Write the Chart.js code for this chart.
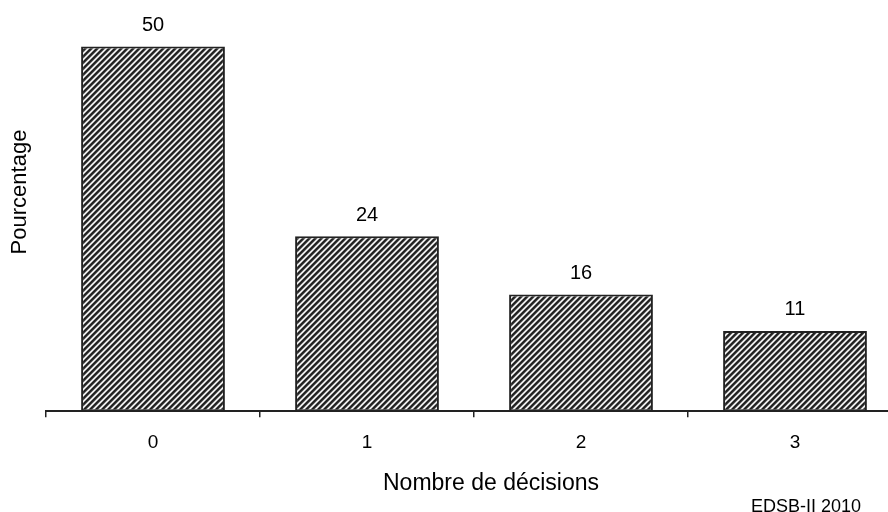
<!DOCTYPE html>
<html>
<head>
<meta charset="utf-8">
<script src="https://cdn.jsdelivr.net/npm/chart.js@4"></script>
<style>
    html, body { margin: 0; padding: 0; background: #fff; overflow: hidden; }
    .wrap { position: relative; width: 902px; height: 512px; }
</style>
</head>
<body>
<div class="wrap"><canvas class="decisions"></canvas></div>
<script>
const categories = ['0', '1', '2', '3'];
const percentages = [50, 24, 16, 11];
const xTitle = 'Nombre de décisions';
const yTitle = 'Pourcentage';
const source = 'EDSB-II 2010';

const font = 'Liberation Sans, Arial, sans-serif';

// diagonal hatch like the old excel fill
function makeHatch() {
    const size = 6;
    const c = document.createElement('canvas');
    c.width = size;
    c.height = size;
    const ctx = c.getContext('2d');
    const img = ctx.createImageData(size, size);
    const shades = [30, 35, 70, 205, 250, 140];
    for (let y = 0; y < size; y++) {
        for (let x = 0; x < size; x++) {
            const v = shades[(x + y) % size];
            const i = (y * size + x) * 4;
            img.data[i] = v;
            img.data[i + 1] = v;
            img.data[i + 2] = v;
            img.data[i + 3] = 255;
        }
    }
    ctx.putImageData(img, 0, 0);
    return ctx.createPattern(c, 'repeat');
}

const textPlugin = {
    id: 'texts',
    afterDatasetsDraw(chart) {
        const ctx = chart.ctx;
        const meta = chart.getDatasetMeta(0);
        ctx.save();
        ctx.fillStyle = '#000';
        ctx.textAlign = 'center';
        ctx.textBaseline = 'middle';
        ctx.font = `20px ${font}`;
        meta.data.forEach((bar, i) => {
            ctx.fillText(String(percentages[i]), bar.x, bar.y - 21);
        });

        ctx.font = `23px ${font}`;
        ctx.fillText(xTitle, 491, 484);

        ctx.save();
        ctx.translate(20, 192);
        ctx.rotate(-Math.PI / 2);
        ctx.font = `22px ${font}`;
        ctx.fillText(yTitle, 0, 0);
        ctx.restore();

        ctx.font = `18px ${font}`;
        ctx.textBaseline = 'alphabetic';
        ctx.fillText(source, 806, 512);
        ctx.restore();
    }
};

new Chart(document.querySelector('.decisions'), {
    type: 'bar',
    data: {
        labels: categories,
        datasets: [{
            data: percentages,
            backgroundColor: makeHatch(),
            borderColor: '#222',
            borderWidth: 2,
            borderSkipped: false,
            categoryPercentage: 1,
            barPercentage: 0.672
        }]
    },
    options: {
        responsive: true,
        maintainAspectRatio: false,
        animation: false,
        layout: { padding: { left: 46, right: 0, top: 10, bottom: 44 } },
        plugins: {
            legend: { display: false },
            tooltip: { enabled: false }
        },
        scales: {
            x: {
                offset: true,
                grid: {
                    offset: true,
                    drawOnChartArea: false,
                    drawTicks: true,
                    tickLength: 6,
                    color: '#222',
                    lineWidth: 1.5
                },
                border: { display: true, color: '#222', width: 2 },
                ticks: {
                    color: '#000',
                    padding: 14,
                    font: { family: font, size: 19 }
                }
            },
            y: {
                display: false,
                min: 0,
                max: 55
            }
        }
    },
    plugins: [textPlugin]
});
</script>
</body>
</html>
